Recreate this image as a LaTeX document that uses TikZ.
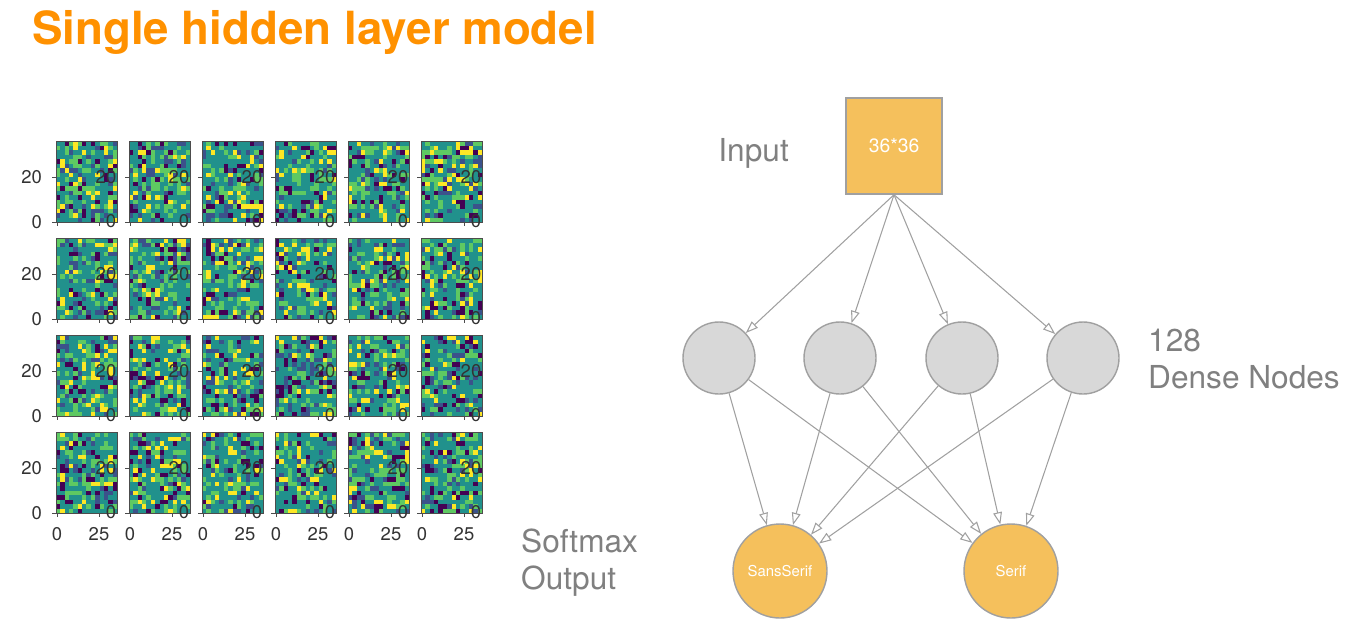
\documentclass[tikz,border=0pt]{standalone}
\usepackage{fontspec}
\setmainfont{TeX Gyre Heros}
\usetikzlibrary{arrows.meta}
\definecolor{ttl}{RGB}{255,145,0}
\definecolor{lbl}{RGB}{128,128,128}
\definecolor{gold}{RGB}{245,192,92}
\definecolor{hid}{RGB}{216,216,216}
\definecolor{edg}{RGB}{160,160,160}
\definecolor{vA}{RGB}{68,1,84}
\definecolor{vB}{RGB}{59,82,139}
\definecolor{vC}{RGB}{33,145,140}
\definecolor{vD}{RGB}{94,201,98}
\definecolor{vE}{RGB}{253,231,37}
\tikzset{
  hidden/.style = {circle, minimum size=72*0.02cm, draw=edg, fill=hid, line width=0.8pt},
  outnode/.style = {circle, minimum size=94*0.02cm, draw=edg, fill=gold, text=white, font=\fontsize{8.5}{10}\selectfont, line width=0.8pt},
  innode/.style = {rectangle, minimum size=96*0.02cm, draw=edg, fill=gold, text=white, font=\fontsize{11}{13}\selectfont, line width=0.8pt},
  note/.style = {text=lbl, font=\fontsize{18}{21}\selectfont, align=left, anchor=west},
  tick/.style = {font=\fontsize{10.5}{12}\selectfont, text=black!80},
  arrow/.style = {draw=edg, line width=0.6pt, -{Triangle[open, length=7pt, width=5pt]}}
}
\begin{document}
\begin{tikzpicture}[x=0.02cm, y=-0.02cm]
\useasboundingbox (0,0) rectangle (1363,640);
\pgfmathsetseed{7}

% title
\node[anchor=west, text=ttl, font=\fontsize{26}{30}\selectfont\bfseries] (title) at (26,32) {Single hidden layer model};

% noise panels
\foreach \c [count=\ci] in {56,129,202,275,348,421} {
  \foreach \r [count=\ri] in {141,238,335,432} {
    \fill[vC] (\c,\r) rectangle ++(61,81);
    \foreach \i in {0,...,13} {
      \foreach \j in {0,...,17} {
        \pgfmathrandominteger{\k}{1}{10}
        \ifnum\k>5\else
        \ifcase\k\or\def\cc{vA}\or\def\cc{vB}\or\def\cc{vD}\or\def\cc{vD}\or\def\cc{vE}\fi
        \fill[\cc] (\c+\i*4.357,\r+\j*4.5) rectangle ++(4.357,4.5);
        \fi
      }
    }
    \draw[black!70, line width=0.5pt] (\c,\r) rectangle ++(61,81);
    \draw[black!70] (\c,\r+81) -- ++(-4,0) (\c,\r+36) -- ++(-4,0);
    \draw[black!70] (\c+1,\r+81) -- ++(0,4) (\c+43,\r+81) -- ++(0,4);
    \node[tick] at (\c+50,\r+36) {20};
    \node[tick] at (\c+55,\r+80) {0};
  }
  \node[tick] at (\c+1,534) {0};
  \node[tick] at (\c+43,534) {25};
}
\foreach \r in {141,238,335,432} {
  \node[tick, anchor=east] at (48,\r+36) {20};
  \node[tick, anchor=east] at (48,\r+81) {0};
}

% network
\node[innode] (inp) at (894,146) {36*36};
\node[note, anchor=east] (inlbl) at (795,153) {Input};
\node[hidden] (h1) at (719,358) {};
\node[hidden] (h2) at (840,358) {};
\node[hidden] (h3) at (962,358) {};
\node[hidden] (h4) at (1083,358) {};
\node[note] (hlbl) at (1142,359) {128\\Dense Nodes};
\node[outnode] (o1) at (780,571) {SansSerif};
\node[outnode] (o2) at (1011,571) {Serif};
\node[note] (olbl) at (515,563) {Softmax\\Output};

\foreach \h in {h1,h2,h3,h4} {
  \draw[arrow] (inp.south) -- (\h);
  \draw[arrow] (\h) -- (o1);
  \draw[arrow] (\h) -- (o2);
}
\end{tikzpicture}
\end{document}
